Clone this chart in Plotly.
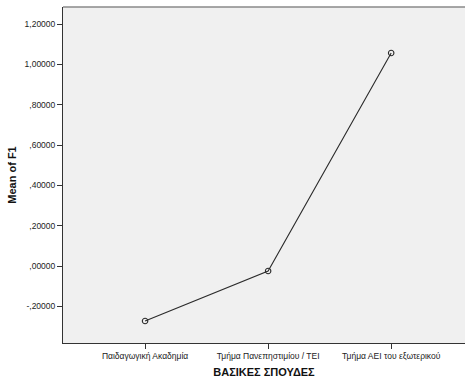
import plotly.graph_objects as go

# Mean of F1 by main field of study
categories = ["Παιδαγωγική Ακαδημία", "Τμήμα Πανεπηστιμίου / ΤΕΙ", "Τμήμα ΑΕΙ του εξωτερικού"]
means = [-0.273, -0.025, 1.057]

ytick_vals = [-0.2, 0.0, 0.2, 0.4, 0.6, 0.8, 1.0, 1.2]
ytick_text = ["-,20000", ",00000", ",20000", ",40000", ",60000", ",80000", "1,00000", "1,20000"]

x_idx = list(range(len(categories)))

fig = go.Figure()
fig.add_trace(go.Scatter(
    x=x_idx, y=means, mode="lines+markers",
    line=dict(color="#2b2b2b", width=1.1),
    marker=dict(symbol="circle-open", size=5.5, color="#2b2b2b", line=dict(width=1.1)),
    hoverinfo="skip", showlegend=False,
))

fig.update_layout(
    width=465, height=379,
    margin=dict(l=63, r=0, t=7, b=36),
    paper_bgcolor="white",
    plot_bgcolor="#f0f0f0",
    font=dict(family="Liberation Sans, Arial, sans-serif", color="#222222", size=8.5),
    xaxis=dict(
        range=[-0.667, 2.6],
        tickvals=x_idx, ticktext=categories,
        showgrid=False, zeroline=False,
        showline=True, linecolor="#333333", linewidth=1,
        ticks="outside", ticklen=5, tickcolor="#333333",
        tickfont=dict(size=8.5),
        title=dict(text="<b>ΒΑΣΙΚΕΣ ΣΠΟΥΔΕΣ</b>", font=dict(size=11, color="#111111"), standoff=8),
    ),
    yaxis=dict(
        range=[-0.382, 1.285],
        tickvals=ytick_vals, ticktext=ytick_text,
        showgrid=False, zeroline=False,
        showline=True, linecolor="#333333", linewidth=1,
        ticks="outside", ticklen=5, tickcolor="#333333",
        tickfont=dict(size=8.5),
        title=dict(text="<b>Mean of F1</b>", font=dict(size=11, color="#111111"), standoff=5),
    ),
    shapes=[dict(type="line", xref="paper", yref="paper", x0=0, x1=1, y0=1, y1=1,
                 line=dict(color="#8a8a8a", width=1.5))],
)

fig.write_html("out.html")
